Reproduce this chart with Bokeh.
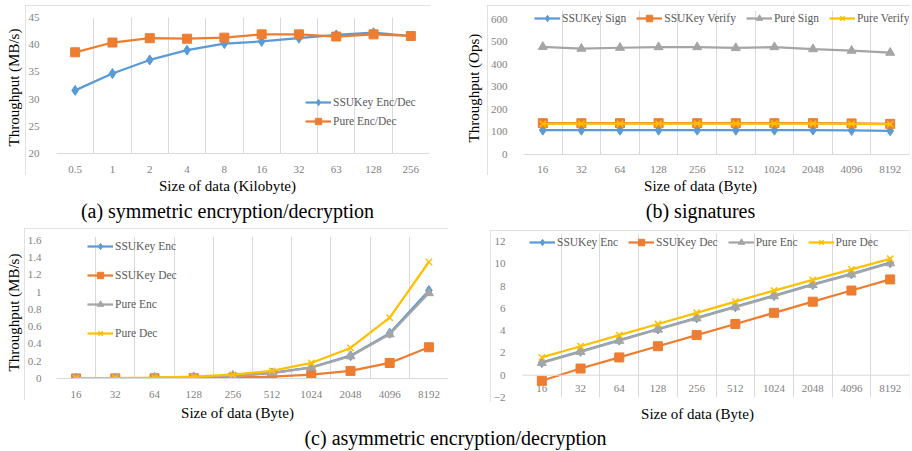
from math import pi
from bokeh.plotting import figure
from bokeh.models import (FactorRange, Range1d, FixedTicker, Legend, LegendItem,
                          Span, Label, Spacer)
from bokeh.layouts import row, column
from bokeh.core.properties import value
from bokeh.embed import file_html
from bokeh.resources import INLINE

# ---------------- data ----------------
sizes_kb = ["0.5", "1", "2", "4", "8", "16", "32", "63", "128", "256"]
ssukey_encdec = [31.6, 34.7, 37.2, 39.0, 40.2, 40.6, 41.2, 41.8, 42.2, 41.6]
pure_encdec = [38.6, 40.4, 41.2, 41.1, 41.3, 41.9, 41.9, 41.5, 41.9, 41.6]

sizes_byte = ["16", "32", "64", "128", "256", "512", "1024", "2048", "4096", "8192"]
ssukey_sign = [108, 108, 108, 108, 108, 108, 108, 108, 107, 105]
ssukey_verify = [139, 139, 139, 139, 139, 139, 139, 139, 138, 136]
pure_sign = [478, 470, 474, 477, 477, 473, 477, 468, 461, 452]
pure_verify = [136, 137, 137, 137, 137, 137, 137, 137, 136, 135]

ssukey_enc_c = [0.002, 0.004, 0.008, 0.016, 0.032, 0.064, 0.13, 0.265, 0.525, 1.02]
ssukey_dec_c = [0.0007, 0.0014, 0.003, 0.006, 0.011, 0.022, 0.045, 0.088, 0.18, 0.362]
pure_enc_c = [0.002, 0.004, 0.008, 0.016, 0.031, 0.062, 0.126, 0.258, 0.512, 0.99]
pure_dec_c = [0.003, 0.0055, 0.011, 0.022, 0.044, 0.088, 0.18, 0.354, 0.705, 1.35]

ssukey_enc_d = [1.15, 2.15, 3.15, 4.15, 5.15, 6.15, 7.15, 8.15, 9.1, 10.1]
ssukey_dec_d = [-0.5, 0.6, 1.6, 2.6, 3.6, 4.6, 5.6, 6.6, 7.6, 8.6]
pure_enc_d = [1.1, 2.1, 3.1, 4.1, 5.1, 6.1, 7.1, 8.1, 9.05, 10.05]
pure_dec_d = [1.6, 2.6, 3.6, 4.6, 5.6, 6.6, 7.6, 8.55, 9.5, 10.45]

yticks_a = [20, 25, 30, 35, 40, 45]
yticks_b = [0, 100, 200, 300, 400, 500, 600]
yticks_c = [0, 0.2, 0.4, 0.6, 0.8, 1, 1.2, 1.4, 1.6]
ylabels_c = ["0", "0.2", "0.4", "0.6", "0.8", "1", "1.2", "1.4", "1.6"]
yticks_d = [-2, 0, 2, 4, 6, 8, 10, 12]

# ---------------- style ----------------
FONT = "Liberation Serif"
TICK_COLOR = "#7f7f7f"
LEG_COLOR = "#595959"
GRID = "#d9d9d9"
BLUE, ORANGE, GRAY, YELLOW = "#5B9BD5", "#ED7D31", "#A5A5A5", "#FFC000"
LW = 2.25


def box_fig(width, height, cats, yr, yticks, borders, ylab_standoff,
            xlab_standoff=6, x_axis=True):
    l, r, t, b = borders
    p = figure(width=width, height=height, x_range=FactorRange(*cats),
               y_range=Range1d(*yr), output_backend="svg", toolbar_location=None,
               x_axis_location="below" if x_axis else None,
               min_border_left=l, min_border_right=r, min_border_top=t,
               min_border_bottom=b, title=None)
    p.styles = {"outline": "1px solid #d9d9d9", "outline-offset": "-1px"}
    p.outline_line_color = None
    p.background_fill_color = "white"
    p.border_fill_color = "white"
    p.ygrid.visible = False
    p.xgrid.ticker = FixedTicker(ticks=list(range(len(cats) + 1)))
    p.xgrid.grid_line_color = GRID
    p.xgrid.grid_line_width = 1

    ya = p.yaxis[0]
    ya.ticker = FixedTicker(ticks=yticks)
    ya.axis_line_color = None
    ya.major_tick_line_color = None
    ya.minor_tick_line_color = None
    ya.major_label_text_font = FONT
    ya.major_label_text_font_size = "11px"
    ya.major_label_text_color = TICK_COLOR
    ya.major_label_standoff = ylab_standoff

    if x_axis:
        xa = p.xaxis[0]
        xa.axis_line_color = GRID
        xa.major_tick_line_color = None
        xa.minor_tick_line_color = None
        xa.major_label_text_font = FONT
        xa.major_label_text_font_size = "11px"
        xa.major_label_text_color = TICK_COLOR
        xa.major_label_standoff = xlab_standoff
    return p


def text_fig(width, height, labels):
    f = figure(width=width, height=height, x_range=Range1d(0, 1), y_range=Range1d(0, 1),
               x_axis_type=None, y_axis_type=None, min_border=0, toolbar_location=None,
               output_backend="svg", title=None)
    f.outline_line_color = None
    f.background_fill_color = "white"
    f.border_fill_color = "white"
    for txt, x, y, size, angle, align in labels:
        f.add_layout(Label(x=x, y=y, x_units="screen", y_units="screen", text=txt,
                           text_font=FONT, text_font_size=size, text_color="#000000",
                           text_align=align, text_baseline="middle", angle=angle))
    return f


def series(p, cats, vals, color, marker, size):
    lr = p.line(x=cats, y=vals, line_color=color, line_width=LW)
    if marker == "x":
        sr = p.scatter(x=cats, y=vals, marker="x", size=size, line_color=color,
                       line_width=1.5)
    else:
        sr = p.scatter(x=cats, y=vals, marker=marker, size=size, fill_color=color,
                       line_color=color)
    return [lr, sr]


def legend(p, items, location, orientation, spacing):
    lg = Legend(items=[LegendItem(label=lab, renderers=rs) for lab, rs in items],
                location=location, orientation=orientation, spacing=spacing,
                background_fill_alpha=0, border_line_color=None,
                label_text_font=FONT, label_text_font_size="11.5px",
                label_text_color=LEG_COLOR, glyph_width=26, glyph_height=16,
                label_height=16, label_standoff=2, padding=0, margin=0)
    p.add_layout(lg)


# ---------------- (a) ----------------
box_a = box_fig(406, 170, sizes_kb, (20, 45), yticks_a, (24, 2, 12, 20), 11, 6)
ra1 = series(box_a, sizes_kb, ssukey_encdec, BLUE, "diamond", 10)
ra2 = series(box_a, sizes_kb, pure_encdec, ORANGE, "square", 9)
legend(box_a, [("SSUKey Enc/Dec", ra1), ("Pure Enc/Dec", ra2)], (249, 24), "vertical", 3)
yt_a = text_fig(25, 170, [("Throughput (MB/s)", 13, 7, "15px", pi / 2, "left")])
bot_a = text_fig(455, 50, [("Size of data (Kilobyte)", 227, 40, "15px", 0, "center"),
                           ("(a) symmetric encryption/decryption", 227, 15, "20px", 0,
                            "center")])
col_a = column(Spacer(width=455, height=5), row(yt_a, box_a), bot_a)

# ---------------- (b) ----------------
box_b = box_fig(423, 170, sizes_byte, (0, 639.4), yticks_b, (28, 1, 5, 19), 10, 5)
rb1 = series(box_b, sizes_byte, ssukey_sign, BLUE, "diamond", 10)
rb2 = series(box_b, sizes_byte, ssukey_verify, ORANGE, "square", 9)
rb3 = series(box_b, sizes_byte, pure_sign, GRAY, "triangle", 9)
rb4 = series(box_b, sizes_byte, pure_verify, YELLOW, "x", 9)
legend(box_b, [("SSUKey Sign", rb1), ("SSUKey Verify", rb2), ("Pure Sign", rb3),
               ("Pure Verify", rb4)], (11, 128), "horizontal", 10)
yt_b = text_fig(32, 170, [("Throughput (Ops)", 18, 12, "15px", pi / 2, "left")])
bot_b = text_fig(456, 50, [("Size of data (Byte)", 245, 40, "15px", 0, "center"),
                           ("(b) signatures", 245, 15, "20px", 0, "center")])
col_b = column(Spacer(width=456, height=5), row(yt_b, box_b), bot_b)

# ---------------- (c) ----------------
box_c = box_fig(424, 172, sizes_byte, (0, 1.6457), yticks_c, (26, 0, 8, 20), 9, 6)
box_c.yaxis[0].major_label_overrides = dict(zip(yticks_c, ylabels_c))
rc1 = series(box_c, sizes_byte, ssukey_enc_c, BLUE, "diamond", 10)
rc2 = series(box_c, sizes_byte, ssukey_dec_c, ORANGE, "square", 9)
rc3 = series(box_c, sizes_byte, pure_enc_c, GRAY, "triangle", 9)
rc4 = series(box_c, sizes_byte, pure_dec_c, YELLOW, "x", 9)
legend(box_c, [("SSUKey Enc", rc1), ("SSUKey Dec", rc2), ("Pure Enc", rc3),
               ("Pure Dec", rc4)], (31, 37), "vertical", 13)
yt_c = text_fig(24, 172, [("Throughput (MB/s)", 13, 7, "15px", pi / 2, "left")])
col_c = column(Spacer(width=448, height=3), row(yt_c, box_c))

# ---------------- (d) ----------------
box_d = box_fig(420, 172, sizes_byte, (-2, 12.72), yticks_d, (24, 1, 3, 5), 11,
                x_axis=False)
box_d.add_layout(Span(location=0, dimension="width", line_color=GRID, line_width=1))
box_d.text(x=sizes_byte, y=[0] * len(sizes_byte), text=sizes_byte, text_font=value(FONT),
           text_font_size="11px", text_color=TICK_COLOR, text_align="center",
           text_baseline="middle", y_offset=13)
rd1 = series(box_d, sizes_byte, ssukey_enc_d, BLUE, "diamond", 10)
rd2 = series(box_d, sizes_byte, ssukey_dec_d, ORANGE, "square", 9)
rd3 = series(box_d, sizes_byte, pure_enc_d, GRAY, "triangle", 9)
rd4 = series(box_d, sizes_byte, pure_dec_d, YELLOW, "x", 9)
legend(box_d, [("SSUKey Enc", rd1), ("SSUKey Dec", rd2), ("Pure Enc", rd3),
               ("Pure Dec", rd4)], (7, 147), "horizontal", 10)
col_d = column(Spacer(width=462, height=5), row(Spacer(width=42, height=172), box_d))

# ---------------- bottom titles + caption (c) ----------------
bot_cd = text_fig(910, 48, [("Size of data (Byte)", 237, 38, "15px", 0, "center"),
                            ("Size of data (Byte)", 697, 37, "15px", 0, "center"),
                            ("(c) asymmetric encryption/decryption", 455, 13, "20px", 0,
                             "center")])

layout = column(row(col_a, col_b), row(col_c, col_d), bot_cd)
open("out.html", "w").write(file_html(layout, INLINE))
